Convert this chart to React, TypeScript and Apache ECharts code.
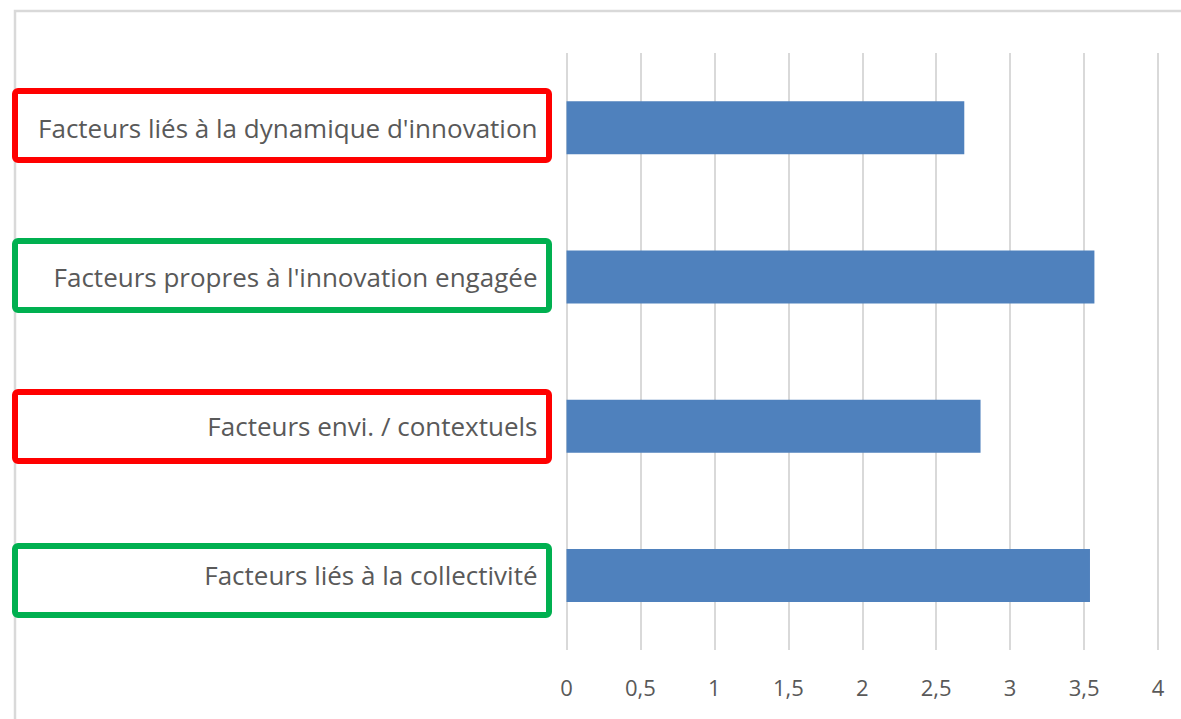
import React, { useEffect, useRef } from "react";
import * as echarts from "echarts";

const categories = [
  "Facteurs liés à la dynamique d'innovation",
  "Facteurs propres à l'innovation engagée",
  "Facteurs envi. / contextuels",
  "Facteurs liés à la collectivité",
];
const values = [2.69, 3.57, 2.8, 3.54];
const boxColors = ["#ff0000", "#00b050", "#ff0000", "#00b050"];
const boxTops = [88, 238, 389, 543];

export default function App() {
  const ref = useRef<HTMLDivElement>(null);
  useEffect(() => {
    if (!ref.current) return;
    const chart = echarts.init(ref.current, undefined, { renderer: "svg" });
    const font = "Open Sans";
    const boxes = boxTops.map((t, i) => ({
      type: "rect",
      shape: { x: 15, y: t + 3, width: 534, height: 69, r: 3 },
      style: { fill: "none", stroke: boxColors[i], lineWidth: 6 },
      z: 100,
    }));
    chart.setOption({
      animation: false,
      backgroundColor: "#ffffff",
      grid: { left: 566.5, right: 23, top: 53, bottom: 69, containLabel: false },
      xAxis: {
        type: "value",
        min: 0,
        max: 4,
        interval: 0.5,
        axisLine: { show: false },
        axisTick: { show: false },
        splitLine: { show: true, lineStyle: { color: "#d9d9d9", width: 2 } },
        axisLabel: {
          color: "#595959",
          fontFamily: font,
          fontSize: 22,
          margin: 26,
          formatter: (v: number) => String(v).replace(".", ","),
        },
      },
      yAxis: {
        type: "category",
        inverse: true,
        data: categories,
        axisLine: { show: false },
        axisTick: { show: false },
        axisLabel: {
          color: "#595959",
          fontFamily: font,
          fontSize: 26,
          margin: 29,
          padding: [4, 0, 0, 0],
        },
      },
      series: [
        {
          type: "bar",
          data: values,
          barWidth: 53,
          itemStyle: { color: "#4f81bd" },
        },
      ],
      graphic: [
        {
          type: "rect",
          shape: { x: 15, y: 11, width: 1300, height: 900 },
          style: { fill: "none", stroke: "#d9d9d9", lineWidth: 2.5 },
          silent: true,
          z: -1,
        },
        ...boxes,
      ],
    });
    return () => chart.dispose();
  }, []);
  return (
    <div
      ref={ref}
      style={{ position: "fixed", left: 0, top: 0, width: 1181, height: 719 }}
    />
  );
}
